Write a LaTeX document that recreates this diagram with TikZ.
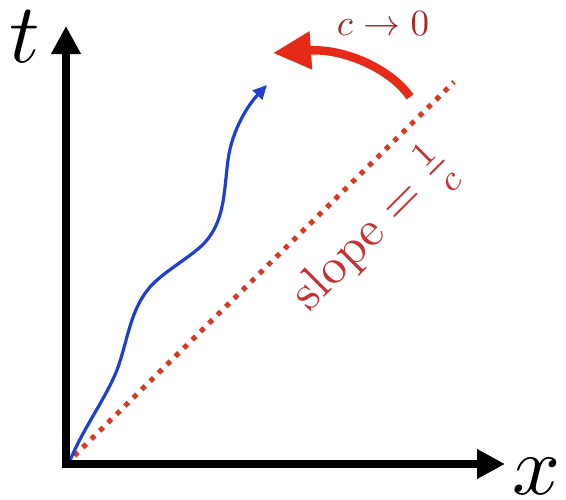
\documentclass[tikz,border=0pt]{standalone}
\usetikzlibrary{arrows.meta}
\definecolor{axisblack}{HTML}{000000}
\definecolor{pathblue}{HTML}{1F3FD0}
\definecolor{dotred}{HTML}{D63A24}
\definecolor{bigred}{HTML}{E62A18}
\definecolor{labelred}{HTML}{A82828}
\definecolor{slopered}{HTML}{C83232}
\begin{document}
\begin{tikzpicture}[x=1pt,y=-1pt,
  axis/.style={line width=8pt, draw=axisblack, line join=miter,
    {Triangle[length=28pt,width=28pt]}-{Triangle[length=28pt,width=28pt]}},
  worldline/.style={line width=3.2pt, draw=pathblue, -{Triangle[length=14pt,width=13pt]}},
  lightline/.style={line width=5pt, draw=dotred, dash pattern=on 5pt off 6.8pt},
  limitarrow/.style={line width=8.5pt, draw=bigred, -{Triangle[length=38pt,width=36pt]}},
  biglabel/.style={scale=8.4, inner sep=0pt},
]
\useasboundingbox[fill=white] (0,0) rectangle (566,499);
% coordinates
\coordinate (O) at (66,464);
\coordinate (Ttip) at (66,26);
\coordinate (Xtip) at (505,464);
\coordinate (Lend) at (454,82);
\coordinate (Atail) at (410,97);
\coordinate (Ahead) at (273,53);
% light line (dotted)
\draw[lightline] (O) -- (Lend);
% world line
\draw[worldline] (69,463) .. controls (82,430) and (105,400) .. (117,370)
  .. controls (128,340) and (130,310) .. (150,287)
  .. controls (165,270) and (195,255) .. (207,240)
  .. controls (225,218) and (224,190) .. (228,160)
  .. controls (232,130) and (248,105) .. (267,85);
% axes
\draw[axis] (Ttip) -- (O) -- (Xtip);
% axis labels
\node[biglabel] (tlab) at (25,37) {$t$};
\node[biglabel] (xlab) at (537,476) {$x$};
% limit arrow
\draw[limitarrow] (Atail) .. controls (392,70) and (345,48) .. (Ahead);
\node[text=labelred, scale=3.7, inner sep=0pt] (clab) at (383,24) {$c \to 0$};
% slope label
\node[rotate=45, scale=5, anchor=base west, text=slopered, inner sep=0pt] (slab) at (309,313) {$\mathrm{slope} = \frac{1}{c}$};
\end{tikzpicture}
\end{document}
